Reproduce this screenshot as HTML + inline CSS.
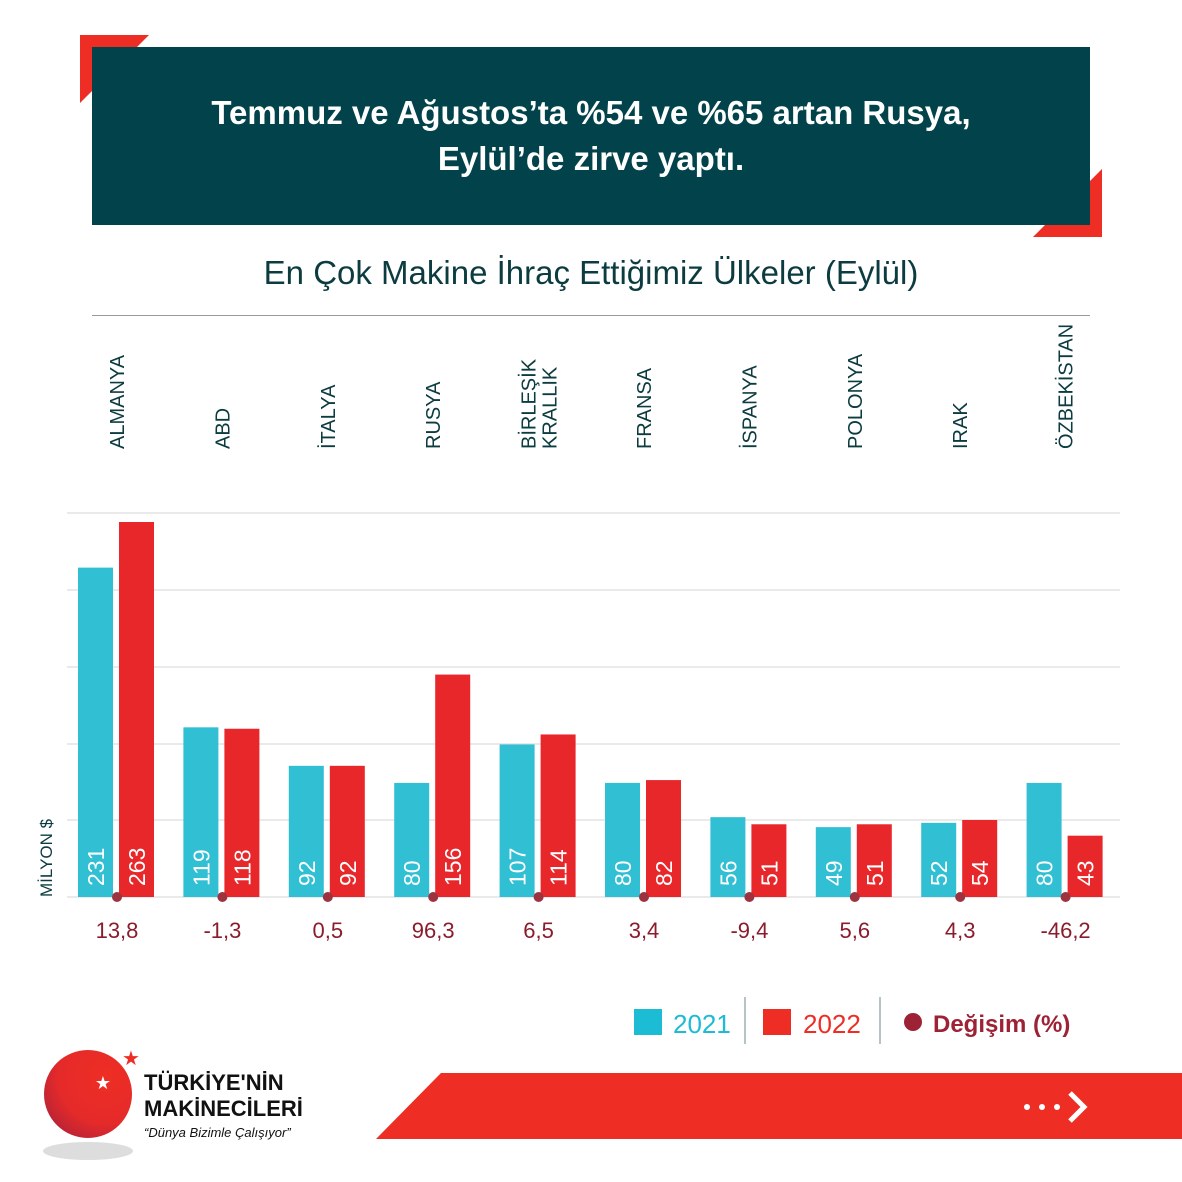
<!DOCTYPE html>
<html><head><meta charset="utf-8"><style>
body{margin:0;background:#fff;width:1182px;height:1182px;overflow:hidden}
svg{display:block;font-family:"Liberation Sans","DejaVu Sans",sans-serif}
</style></head><body>
<svg width="1182" height="1182" viewBox="0 0 1182 1182" xmlns="http://www.w3.org/2000/svg">
<polygon points="80,35 149,35 137,47 92,47 92,91 80,103" fill="#ee2e24"/>
<polygon points="1102,237 1033,237 1045,225 1090,225 1090,181 1102,169" fill="#ee2e24"/>
<rect x="92" y="47" width="998" height="178" fill="#02434b"/>
<text x="591" y="124" text-anchor="middle" fill="#fff" font-size="33" font-weight="bold">Temmuz ve Ağustos’ta %54 ve %65 artan Rusya,</text>
<text x="591" y="170" text-anchor="middle" fill="#fff" font-size="33" font-weight="bold">Eylül’de zirve yaptı.</text>
<text x="591" y="284" text-anchor="middle" fill="#0c3b40" font-size="33">En Çok Makine İhraç Ettiğimiz Ülkeler (Eylül)</text>
<line x1="92" y1="315.5" x2="1090" y2="315.5" stroke="#999" stroke-width="1"/>
<g stroke="#e3e3e3" stroke-width="1.5">
<line x1="67" y1="513" x2="1120" y2="513"/><line x1="67" y1="590" x2="1120" y2="590"/>
<line x1="67" y1="667" x2="1120" y2="667"/><line x1="67" y1="744" x2="1120" y2="744"/>
<line x1="67" y1="820" x2="1120" y2="820"/><line x1="67" y1="897" x2="1120" y2="897"/>
</g>
<text transform="translate(52,897) rotate(-90)" fill="#0c3b40" font-size="17">MİLYON $</text>
<g id="chart"></g>
<rect x="634" y="1009" width="28" height="26" fill="#1cbcd4"/>
<text x="673" y="1033" fill="#1cbcd4" font-size="26">2021</text>
<line x1="745" y1="997" x2="745" y2="1044" stroke="#6a8a90"/>
<rect x="763" y="1009" width="28" height="26" fill="#ee2e24"/>
<text x="803" y="1033" fill="#ee2e24" font-size="26">2022</text>
<line x1="880" y1="997" x2="880" y2="1044" stroke="#6a8a90"/>
<circle cx="913" cy="1022" r="9" fill="#9e2235"/>
<text x="933" y="1032" fill="#9e2235" font-size="24" font-weight="bold">Değişim (%)</text>
<ellipse cx="88" cy="1151" rx="45" ry="9" fill="#ddd"/>
<defs><radialGradient id="g" cx="0.7" cy="0.3" r="0.9"><stop offset="0" stop-color="#ee2e24"/><stop offset="0.6" stop-color="#e52a2a"/><stop offset="1" stop-color="#a8213a"/></radialGradient></defs>
<circle cx="88" cy="1094" r="44" fill="url(#g)"/>
<text x="103" y="1089" text-anchor="middle" fill="#fff" font-size="18">★</text>
<text x="131" y="1065" text-anchor="middle" fill="#ee2e24" font-size="20">★</text>
<text x="144" y="1090" fill="#111" font-size="22" font-weight="bold">TÜRKİYE'NİN</text>
<text x="144" y="1116" fill="#111" font-size="22" font-weight="bold">MAKİNECİLERİ</text>
<text x="144" y="1137" fill="#111" font-size="13" font-style="italic">“Dünya Bizimle Çalışıyor”</text>
<polygon points="441,1073 1182,1073 1182,1139 376,1139" fill="#ee2e24"/>
<circle cx="1027" cy="1107" r="3" fill="#fff"/><circle cx="1042" cy="1107" r="3" fill="#fff"/><circle cx="1057" cy="1107" r="3" fill="#fff"/>
<polyline points="1070,1093 1084,1107 1070,1121" fill="none" stroke="#fff" stroke-width="5"/>
</svg>
<script>
const d=[["ALMANYA",231,263,"13,8"],["ABD",119,118,"-1,3"],["İTALYA",92,92,"0,5"],["RUSYA",80,156,"96,3"],["BİRLEŞİK|KRALLIK",107,114,"6,5"],["FRANSA",80,82,"3,4"],["İSPANYA",56,51,"-9,4"],["POLONYA",49,51,"5,6"],["IRAK",52,54,"4,3"],["ÖZBEKİSTAN",80,43,"-46,2"]];
const s=375/263;let h="";
d.forEach((r,i)=>{const c=117+i*105.4;const h1=r[1]*s,h2=r[2]*s;
h+=`<rect x="${c-39}" y="${897-h1}" width="35" height="${h1}" fill="#31bfd4"/>`;
h+=`<rect x="${c+2}" y="${897-h2}" width="35" height="${h2}" fill="#e8272b"/>`;
h+=`<text transform="translate(${c-13},886) rotate(-90)" fill="#fff" font-size="23">${r[1]}</text>`;
h+=`<text transform="translate(${c+28},886) rotate(-90)" fill="#fff" font-size="23">${r[2]}</text>`;
h+=`<circle cx="${c}" cy="897" r="5" fill="#9e3340"/>`;
h+=`<text x="${c}" y="938" text-anchor="middle" fill="#8a1c2c" font-size="22">${r[3]}</text>`;
const L=r[0].split("|");
if(L.length==1)h+=`<text transform="translate(${c+7},449) rotate(-90)" fill="#0c3b40" font-size="20">${L[0]}</text>`;
else{h+=`<text transform="translate(${c-3},449) rotate(-90)" fill="#0c3b40" font-size="20">${L[0]}</text>`;h+=`<text transform="translate(${c+18},449) rotate(-90)" fill="#0c3b40" font-size="20">${L[1]}</text>`;}
});
document.getElementById("chart").innerHTML=h;
</script>
</body></html>
